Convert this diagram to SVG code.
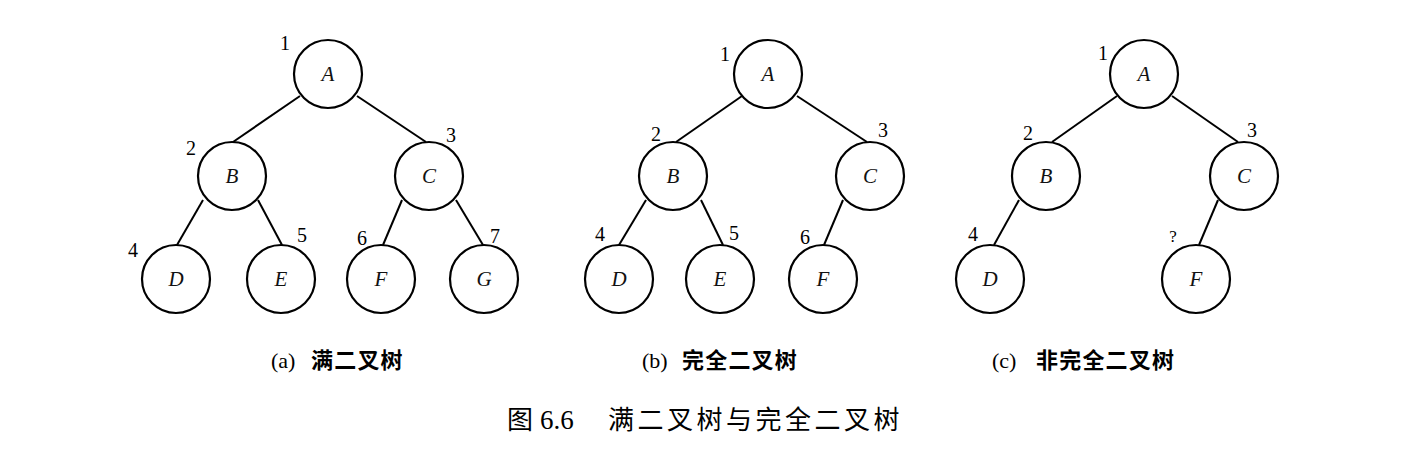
<svg xmlns="http://www.w3.org/2000/svg" width="1420" height="470" viewBox="0 0 1420 470">
<style>
.n circle{fill:#fff;stroke:#000;stroke-width:2.2}
.lt{font-family:"Liberation Serif",serif;font-style:italic;font-size:21px;text-anchor:middle;fill:#111}
.num{font-family:"Liberation Serif",serif;font-size:20px;text-anchor:middle;fill:#000}
.e line{stroke:#000;stroke-width:2}
.cap{font-family:"Liberation Serif",serif;font-size:22px;fill:#000}
.capz{font-family:"Noto Sans CJK SC",sans-serif;font-size:22px;font-weight:bold;fill:#000;letter-spacing:1.2px}
.tt{font-family:"Liberation Serif",serif;font-size:27px;fill:#000}
.ttz{font-family:"Noto Sans CJK SC",sans-serif;font-size:26px;fill:#000;letter-spacing:3.5px}
</style>
<rect width="1420" height="470" fill="#fff"/>
<g id="connectors" class="e">
<line x1="300" y1="96" x2="233" y2="142"/>
<line x1="357" y1="96" x2="426" y2="142"/>
<line x1="203" y1="200" x2="177" y2="245"/>
<line x1="258" y1="200" x2="282" y2="245"/>
<line x1="402" y1="200" x2="383" y2="245"/>
<line x1="456" y1="200" x2="483" y2="245"/>
<line x1="742" y1="96" x2="676" y2="142"/>
<line x1="797" y1="96" x2="867" y2="142"/>
<line x1="646" y1="200" x2="619" y2="245"/>
<line x1="701" y1="200" x2="723" y2="245"/>
<line x1="843" y1="200" x2="824" y2="245"/>
<line x1="1117" y1="96" x2="1052" y2="142"/>
<line x1="1172" y1="96" x2="1238" y2="142"/>
<line x1="1019" y1="200" x2="994" y2="245"/>
<line x1="1218" y1="200" x2="1199" y2="245"/>
</g>
<g id="a-A" class="n"><circle cx="328" cy="74" r="34"/><text class="lt" x="328" y="81">A</text><text class="num" x="285" y="50">1</text></g>
<g id="a-B" class="n"><circle cx="232" cy="176" r="34"/><text class="lt" x="232" y="183">B</text><text class="num" x="191" y="155">2</text></g>
<g id="a-C" class="n"><circle cx="429" cy="176" r="34"/><text class="lt" x="429" y="183">C</text><text class="num" x="451" y="142">3</text></g>
<g id="a-D" class="n"><circle cx="176" cy="279" r="34"/><text class="lt" x="176" y="286">D</text><text class="num" x="133" y="257">4</text></g>
<g id="a-E" class="n"><circle cx="281" cy="279" r="34"/><text class="lt" x="281" y="286">E</text><text class="num" x="302" y="242">5</text></g>
<g id="a-F" class="n"><circle cx="381" cy="279" r="34"/><text class="lt" x="381" y="286">F</text><text class="num" x="362" y="245">6</text></g>
<g id="a-G" class="n"><circle cx="484" cy="279" r="34"/><text class="lt" x="484" y="286">G</text><text class="num" x="495" y="243">7</text></g>

<g id="b-A" class="n"><circle cx="768" cy="74" r="34"/><text class="lt" x="768" y="81">A</text><text class="num" x="725" y="61">1</text></g>
<g id="b-B" class="n"><circle cx="673" cy="176" r="34"/><text class="lt" x="673" y="183">B</text><text class="num" x="656" y="141">2</text></g>
<g id="b-C" class="n"><circle cx="870" cy="176" r="34"/><text class="lt" x="870" y="183">C</text><text class="num" x="883" y="137">3</text></g>
<g id="b-D" class="n"><circle cx="619" cy="279" r="34"/><text class="lt" x="619" y="286">D</text><text class="num" x="600" y="241">4</text></g>
<g id="b-E" class="n"><circle cx="720" cy="279" r="34"/><text class="lt" x="720" y="286">E</text><text class="num" x="734" y="240">5</text></g>
<g id="b-F" class="n"><circle cx="823" cy="279" r="34"/><text class="lt" x="823" y="286">F</text><text class="num" x="805" y="244">6</text></g>

<g id="c-A" class="n"><circle cx="1144" cy="74" r="34"/><text class="lt" x="1144" y="81">A</text><text class="num" x="1103" y="60">1</text></g>
<g id="c-B" class="n"><circle cx="1046" cy="176" r="34"/><text class="lt" x="1046" y="183">B</text><text class="num" x="1028" y="140">2</text></g>
<g id="c-C" class="n"><circle cx="1244" cy="176" r="34"/><text class="lt" x="1244" y="183">C</text><text class="num" x="1252" y="137">3</text></g>
<g id="c-D" class="n"><circle cx="990" cy="279" r="34"/><text class="lt" x="990" y="286">D</text><text class="num" x="973" y="241">4</text></g>
<g id="c-F" class="n"><circle cx="1196" cy="279" r="34"/><text class="lt" x="1196" y="286">F</text><text class="num" x="1173" y="242" style="font-size:17px">?</text></g>

<g id="captions">
<text class="cap" x="271" y="368">(a)</text><text class="capz" x="311" y="368">满二叉树</text>
<text class="cap" x="642" y="368">(b)</text><text class="capz" x="682" y="368">完全二叉树</text>
<text class="cap" x="992" y="368">(c)</text><text class="capz" x="1036" y="368">非完全二叉树</text>
<text class="ttz" x="507" y="429">图</text><text class="tt" x="540" y="429">6.6</text>
<text class="ttz" x="608" y="429">满二叉树与完全二叉树</text>
</g>
</svg>
